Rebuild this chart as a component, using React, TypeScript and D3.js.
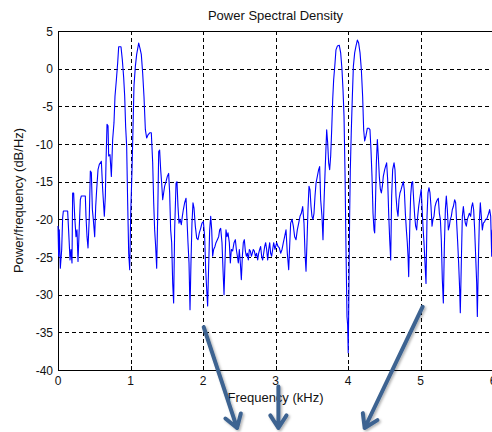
import { useEffect, useRef } from 'react'
import * as d3 from 'd3'

type Pt = [number, number]

// PSD readings, [frequency kHz, power dB/Hz], one array per kHz band
const band0: Pt[] = [
  [0.000, -20.9], [0.009, -24.9], [0.018, -21.4], [0.032, -26.5], [0.051, -24.0], [0.064, -19.8],
  [0.074, -18.9], [0.133, -18.9], [0.147, -21.6], [0.166, -25.4], [0.179, -24.0], [0.193, -25.8],
  [0.202, -16.5], [0.216, -16.5], [0.230, -19.6], [0.248, -22.3], [0.262, -21.4], [0.276, -25.6],
  [0.294, -20.9], [0.308, -17.4], [0.322, -16.9], [0.377, -16.9], [0.386, -19.6], [0.400, -22.3],
  [0.414, -23.8], [0.432, -19.6], [0.446, -13.6], [0.460, -13.8], [0.474, -18.7], [0.487, -20.0],
  [0.506, -22.3], [0.520, -18.3], [0.533, -16.1], [0.552, -13.4], [0.570, -12.7], [0.598, -12.3],
  [0.616, -16.0], [0.639, -19.6], [0.653, -16.9], [0.662, -12.5], [0.676, -7.4], [0.690, -7.6],
  [0.699, -11.6], [0.717, -11.4], [0.736, -14.3], [0.754, -9.4], [0.772, -7.2], [0.786, -3.7],
  [0.805, -1.5], [0.823, 0.75], [0.837, 2.9], [0.869, 2.9], [0.887, 1.2], [0.906, -1.2],
  [0.920, -3.7], [0.933, -7.7], [0.947, -10.3], [0.961, -17.8], [0.975, -24.5], [0.989, -26.7],
]

const band1: Pt[] = [
  [1.002, -19.6], [1.021, -13.4], [1.034, -8.1], [1.048, -2.3], [1.067, 0.3], [1.085, 1.9],
  [1.113, 3.4], [1.131, 2.7], [1.149, 1.9], [1.168, -0.6], [1.186, -3.7], [1.205, -8.1],
  [1.223, -9.2], [1.241, -8.8], [1.269, -8.5], [1.287, -8.5], [1.306, -12.5], [1.320, -17.8],
  [1.333, -21.4], [1.347, -23.6], [1.361, -26.5], [1.375, -19.6], [1.389, -11.0], [1.402, -10.8],
  [1.416, -13.4], [1.430, -15.2], [1.444, -17.4], [1.457, -16.5], [1.471, -15.6], [1.490, -15.0],
  [1.508, -14.3], [1.526, -13.9], [1.540, -16.5], [1.554, -21.4], [1.568, -23.1], [1.582, -28.5],
  [1.595, -31.1], [1.609, -21.4], [1.628, -15.2], [1.641, -15.0], [1.655, -18.3], [1.669, -20.5],
  [1.683, -20.0], [1.701, -20.7], [1.715, -19.6], [1.729, -18.7], [1.747, -17.8], [1.766, -17.2],
  [1.779, -20.0], [1.793, -23.1], [1.807, -25.8], [1.821, -32.0], [1.834, -25.8], [1.848, -20.5],
  [1.862, -17.8], [1.876, -18.5], [1.894, -20.9], [1.913, -22.5], [1.931, -22.7], [1.949, -21.8],
  [1.968, -21.2], [1.986, -20.5],
]

const band2: Pt[] = [
  [2.005, -20.3], [2.023, -22.3], [2.037, -26.7], [2.051, -29.3], [2.064, -31.5], [2.078, -26.2],
  [2.092, -21.4], [2.106, -19.6], [2.120, -21.4], [2.133, -24.9], [2.147, -24.0], [2.165, -23.6],
  [2.179, -23.1], [2.198, -22.7], [2.216, -22.3], [2.230, -21.4], [2.244, -21.2], [2.262, -23.1],
  [2.276, -26.7], [2.290, -30.0], [2.303, -25.8], [2.317, -21.4], [2.331, -22.3], [2.345, -21.8],
  [2.363, -23.1], [2.377, -25.8], [2.391, -24.0], [2.409, -24.2], [2.428, -23.1], [2.446, -22.7],
  [2.460, -24.0], [2.474, -24.9], [2.487, -25.8], [2.501, -24.0], [2.515, -25.8], [2.529, -28.0],
  [2.543, -24.9], [2.556, -23.1], [2.570, -22.7], [2.584, -24.2], [2.598, -24.9], [2.612, -24.5],
  [2.625, -25.4], [2.639, -24.0], [2.653, -24.2], [2.667, -24.9], [2.680, -24.5], [2.694, -24.0],
  [2.708, -24.2], [2.722, -24.9], [2.740, -24.5], [2.754, -25.4], [2.768, -24.5], [2.782, -24.0],
  [2.795, -23.6], [2.809, -24.9], [2.823, -25.4], [2.837, -24.5], [2.851, -23.6], [2.864, -23.1],
  [2.878, -24.0], [2.892, -25.4], [2.906, -24.0], [2.920, -23.1], [2.933, -24.5], [2.947, -24.9],
  [2.961, -24.0], [2.975, -23.1], [2.993, -24.0],
]

const band3: Pt[] = [
  [3.016, -23.1], [3.035, -23.6], [3.053, -23.8], [3.071, -24.5], [3.090, -24.0], [3.108, -23.1],
  [3.126, -22.3], [3.145, -21.4], [3.163, -24.5], [3.182, -26.7], [3.195, -23.6], [3.209, -20.5],
  [3.228, -20.0], [3.246, -20.9], [3.264, -22.3], [3.283, -22.7], [3.301, -21.4], [3.320, -20.5],
  [3.338, -19.6], [3.356, -19.2], [3.375, -18.3], [3.393, -20.5], [3.407, -24.5], [3.421, -26.9],
  [3.434, -23.1], [3.448, -18.7], [3.462, -15.6], [3.476, -16.1], [3.490, -18.3], [3.503, -19.6],
  [3.517, -20.0], [3.531, -19.2], [3.545, -16.9], [3.559, -15.2], [3.577, -14.3], [3.595, -13.4],
  [3.609, -13.0], [3.623, -17.4], [3.641, -19.6], [3.655, -22.7], [3.669, -17.8], [3.683, -13.9],
  [3.697, -10.3], [3.706, -8.1], [3.720, -9.9], [3.733, -12.5], [3.747, -13.4], [3.761, -11.6],
  [3.775, -8.1], [3.789, -4.1], [3.802, -1.5], [3.821, 0.75], [3.834, 2.5], [3.853, 3.0],
  [3.880, 3.1], [3.899, 2.1], [3.917, -0.1], [3.931, -2.8], [3.945, -6.3], [3.959, -13.9],
  [3.972, -23.6], [3.986, -32.9], [3.995, -34.0],
]

const band4: Pt[] = [
  [4.003, -37.7], [4.012, -30.0], [4.022, -20.0], [4.032, -13.4], [4.046, -8.1], [4.060, -3.7],
  [4.074, 0.3], [4.092, 2.1], [4.110, 3.0], [4.129, 3.8], [4.147, 3.4], [4.166, 2.1],
  [4.184, -0.1], [4.202, -3.7], [4.216, -8.1], [4.230, -9.6], [4.248, -8.9], [4.267, -7.9],
  [4.285, -7.9], [4.303, -8.1], [4.317, -10.8], [4.331, -14.3], [4.345, -19.2], [4.359, -21.4],
  [4.368, -21.8], [4.377, -18.7], [4.391, -12.5], [4.405, -9.4], [4.418, -11.6], [4.432, -14.3],
  [4.446, -16.0], [4.460, -16.5], [4.474, -15.6], [4.487, -14.3], [4.506, -13.4], [4.520, -12.9],
  [4.533, -12.5], [4.547, -14.7], [4.561, -19.2], [4.575, -22.7], [4.589, -25.4], [4.602, -16.9],
  [4.616, -13.4], [4.635, -12.5], [4.648, -13.4], [4.662, -16.9], [4.676, -18.7], [4.690, -19.6],
  [4.703, -17.4], [4.717, -16.5], [4.731, -16.1], [4.745, -15.6], [4.763, -15.0], [4.777, -16.1],
  [4.791, -19.2], [4.805, -21.4], [4.818, -23.1], [4.828, -24.9], [4.837, -27.6], [4.851, -21.4],
  [4.864, -16.9], [4.878, -15.2], [4.892, -15.0], [4.906, -17.4], [4.920, -19.6], [4.933, -20.9],
  [4.947, -21.4], [4.961, -19.6], [4.975, -18.3], [4.988, -17.4],
]

const band5: Pt[] = [
  [5.002, -16.5], [5.010, -16.0], [5.021, -18.3], [5.034, -20.9], [5.048, -23.1], [5.062, -25.8],
  [5.076, -28.5], [5.090, -19.6], [5.103, -16.5], [5.117, -15.8], [5.131, -16.5], [5.145, -18.3],
  [5.159, -20.9], [5.172, -20.0], [5.186, -19.6], [5.200, -18.3], [5.214, -17.8], [5.232, -17.4],
  [5.246, -17.2], [5.260, -19.2], [5.274, -20.0], [5.287, -22.7], [5.301, -28.0], [5.315, -31.1],
  [5.329, -23.6], [5.343, -18.7], [5.356, -16.9], [5.370, -18.7], [5.384, -21.4], [5.398, -20.9],
  [5.411, -20.0], [5.425, -19.6], [5.439, -18.7], [5.453, -18.3], [5.471, -17.4], [5.485, -17.8],
  [5.499, -20.5], [5.513, -23.1], [5.526, -25.8], [5.540, -29.3], [5.549, -32.4], [5.563, -25.8],
  [5.577, -19.6], [5.591, -18.3], [5.605, -19.6], [5.618, -20.5], [5.632, -20.9], [5.646, -20.0],
  [5.660, -19.6], [5.673, -19.2], [5.692, -19.6], [5.706, -18.3], [5.719, -17.8], [5.733, -18.7],
  [5.747, -21.4], [5.761, -24.9], [5.775, -28.5], [5.784, -32.9], [5.798, -25.8], [5.811, -20.5],
  [5.825, -17.8], [5.839, -19.6], [5.853, -21.4], [5.867, -20.5], [5.885, -20.3], [5.899, -20.0],
  [5.913, -20.0], [5.926, -19.6], [5.940, -19.2], [5.954, -18.7], [5.968, -19.6], [5.982, -24.9],
  [5.990, -21.4],
]

const xTicks = [0, 1, 2, 3, 4, 5, 6]
const yTicks = [5, 0, -5, -10, -15, -20, -25, -30, -35, -40]

// annotation arrows, in data units [kHz, dB]
const arrows: { from: Pt; to: Pt }[] = [
  { from: [2.01, -34.3], to: [2.47, -47.7] },
  { from: [3.04, -42.2], to: [3.04, -47.7] },
  { from: [5.03, -31.6], to: [4.23, -47.7] },
]

const FONT = '"Liberation Sans", Arial, Helvetica, sans-serif'

export default function App() {
  const svgRef = useRef<SVGSVGElement>(null)

  useEffect(() => {
    const svg = d3.select(svgRef.current)
    svg.selectAll('*').remove()

    const x = d3.scaleLinear().domain([0, 6]).range([58, 493])
    const y = d3.scaleLinear().domain([-40, 5]).range([370, 31])
    const [x0, x1] = x.range()
    const [y0, y1] = y.range()

    svg.append('rect').attr('width', 492).attr('height', 432).attr('fill', '#fff')

    const defs = svg.append('defs')
    defs.append('filter').attr('id', 'shadow')
      .attr('x', '-50%').attr('y', '-50%').attr('width', '200%').attr('height', '200%')
      .append('feDropShadow')
      .attr('dx', 1.5).attr('dy', 1.5).attr('stdDeviation', 1.2)
      .attr('flood-color', '#000').attr('flood-opacity', 0.3)

    // grid
    const grid = svg.append('g').attr('stroke', '#000').attr('stroke-width', 1)
      .attr('stroke-dasharray', '4,3')
    grid.selectAll('line.vx').data(xTicks.slice(1)).join('line')
      .attr('x1', (d) => Math.round(x(d)) + 0.5).attr('x2', (d) => Math.round(x(d)) + 0.5)
      .attr('y1', y1).attr('y2', y0)
    grid.selectAll('line.hy').data(yTicks.slice(1, -1)).join('line')
      .attr('x1', x0).attr('x2', x1)
      .attr('y1', (d) => Math.round(y(d)) + 0.5).attr('y2', (d) => Math.round(y(d)) + 0.5)

    // axes box
    const box = svg.append('g').attr('stroke', '#000').attr('stroke-width', 1).attr('fill', 'none')
    box.append('path').attr('d', `M${x1},${y1 + 0.5}H${x0 + 0.5}V${y0 + 0.5}H${x1}`)
    xTicks.forEach((t) => {
      const px = Math.round(x(t)) + 0.5
      box.append('line').attr('x1', px).attr('x2', px).attr('y1', y0).attr('y2', y0 - 4)
      box.append('line').attr('x1', px).attr('x2', px).attr('y1', y1).attr('y2', y1 + 4)
    })
    yTicks.forEach((t) => {
      const py = Math.round(y(t)) + 0.5
      box.append('line').attr('x1', x0).attr('x2', x0 + 4).attr('y1', py).attr('y2', py)
    })

    // tick labels
    svg.append('g').selectAll('text').data(xTicks).join('text')
      .attr('x', (d) => x(d)).attr('y', y0 + 15)
      .attr('text-anchor', 'middle')
      .attr('font-family', FONT).attr('font-size', 12).attr('fill', '#111')
      .text((d) => d)
    svg.append('g').selectAll('text').data(yTicks).join('text')
      .attr('x', x0 - 5).attr('y', (d) => y(d) + 4.5)
      .attr('text-anchor', 'end')
      .attr('font-family', FONT).attr('font-size', 12).attr('fill', '#111')
      .text((d) => d)

    // titles
    svg.append('text')
      .attr('x', x(3)).attr('y', 20)
      .attr('text-anchor', 'middle')
      .attr('font-family', FONT).attr('font-size', 13).attr('fill', '#111')
      .text('Power Spectral Density')
    svg.append('text')
      .attr('x', x(3)).attr('y', 402)
      .attr('text-anchor', 'middle')
      .attr('font-family', FONT).attr('font-size', 13).attr('fill', '#111')
      .text('Frequency (kHz)')
    svg.append('text')
      .attr('transform', `translate(23,${(y0 + y1) / 2}) rotate(-90)`)
      .attr('text-anchor', 'middle')
      .attr('font-family', FONT).attr('font-size', 13).attr('fill', '#111')
      .text('Power/frequency (dB/Hz)')

    // PSD trace
    const psd = [...band0, ...band1, ...band2, ...band3, ...band4, ...band5]
    const line = d3.line<Pt>().x((d) => x(d[0])).y((d) => y(d[1]))
    svg.append('path')
      .datum(psd)
      .attr('fill', 'none')
      .attr('stroke', '#0000ff')
      .attr('stroke-width', 1.1)
      .attr('stroke-linejoin', 'round')
      .attr('d', line)

    // annotation arrows
    const ag = svg.append('g').attr('filter', 'url(#shadow)')
      .attr('stroke', '#3d6391').attr('stroke-width', 4).attr('fill', 'none')
      .attr('stroke-linecap', 'round').attr('stroke-linejoin', 'round')
    arrows.forEach((a) => {
      const sx = x(a.from[0]), sy = y(a.from[1])
      const tx = x(a.to[0]), ty = y(a.to[1])
      const ang = Math.atan2(ty - sy, tx - sx)
      const len = 15
      const spread = Math.PI / 5.5
      const l = [tx - len * Math.cos(ang - spread), ty - len * Math.sin(ang - spread)]
      const r = [tx - len * Math.cos(ang + spread), ty - len * Math.sin(ang + spread)]
      ag.append('path').attr('d', `M${sx},${sy}L${tx},${ty}M${l[0]},${l[1]}L${tx},${ty}L${r[0]},${r[1]}`)
    })
  }, [])

  return (
    <div style={{ position: 'absolute', left: 0, top: 0 }}>
      <svg ref={svgRef} width={492} height={432} style={{ display: 'block' }} />
    </div>
  )
}
